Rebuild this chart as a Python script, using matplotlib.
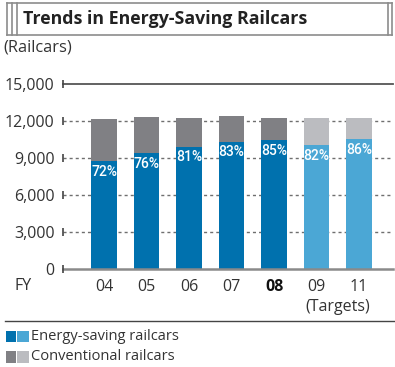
import matplotlib
matplotlib.use('Agg')
import matplotlib.pyplot as plt
import numpy as np
from matplotlib.lines import Line2D
from matplotlib.patches import Rectangle

plt.rcParams['font.family'] = ['Open Sans', 'DejaVu Sans']

# Railcar counts by fiscal year
years = ['04', '05', '06', '07', '08', '09', '11']
totals = [12150, 12330, 12250, 12430, 12270, 12250, 12250]
saving_pct = [72, 76, 81, 83, 85, 82, 86]
is_target = [False, False, False, False, False, True, True]
y_ticks = [0, 3000, 6000, 9000, 12000, 15000]
y_tick_labels = ['0', '3,000', '6,000', '9,000', '12,000', '15,000']

saving = np.array(totals) * np.array(saving_pct) / 100.0
conventional = np.array(totals) - saving

dark_blue = '#0071AE'
light_blue = '#4BA7D5'
dark_gray = '#808084'
light_gray = '#BBBCC0'
text_color = '#333333'

W, H = 395, 367
fig = plt.figure(figsize=(W / 100, H / 100), dpi=100)

# overlay in pixel coordinates for the frame, rules and free text
over = fig.add_axes([0, 0, 1, 1])
over.set_xlim(0, W)
over.set_ylim(H, 0)
over.axis('off')

ax = fig.add_axes([63 / W, 1 - 269 / H, 330 / W, 185 / H])
ax.set_zorder(2)
ax.patch.set_alpha(0)

x = np.arange(len(years))
blue_cols = [light_blue if t else dark_blue for t in is_target]
gray_cols = [light_gray if t else dark_gray for t in is_target]
ax.bar(x, saving, width=0.61, color=blue_cols, zorder=3)
ax.bar(x, conventional, bottom=saving, width=0.61, color=gray_cols, zorder=3)

for xi, s, p in zip(x, saving, saving_pct):
    ax.annotate(f'{p}%', (xi, s), xytext=(0, -2.5), textcoords='offset points',
                ha='center', va='top', color='white', fontsize=10,
                fontweight='medium', family='Roboto', zorder=4)

ax.set_xlim(-0.965, 6.8)
ax.set_ylim(0, 15000)

# dashed grid with small tick bars at the left end
for v in y_ticks[1:-1]:
    ax.axhline(v, color='#6f6f6f', lw=1, ls=(0, (2.2, 2.2)), zorder=1)
ax.axhline(15000, color='#555555', lw=1.3, zorder=1, clip_on=False)
ax.axhline(0, color='#8a8a8a', lw=1.8, zorder=4, clip_on=False)
ax.plot([-0.965] * len(y_ticks), y_ticks, ls='none', marker='|', ms=6,
        mew=1.2, color='#444444', clip_on=False, zorder=5)

ax.set_yticks(y_ticks)
ax.set_yticklabels(y_tick_labels)
ax.tick_params(axis='y', length=0, pad=6, labelsize=11.5, labelcolor=text_color)
ax.set_xticks(x)
ax.set_xticklabels(years)
ax.tick_params(axis='x', length=0, pad=7, labelsize=11.5, labelcolor=text_color)
for lab, yr in zip(ax.get_xticklabels(), years):
    if yr == '08':
        lab.set_fontweight('bold')
        lab.set_color('#111111')
for s in ax.spines.values():
    s.set_visible(False)

over.text(338, 307, '(Targets)', ha='center', va='center', fontsize=11.5, color=text_color)
over.text(14, 286, 'FY', ha='left', va='center', fontsize=11.5, color=text_color)
over.text(3, 47, '(Railcars)', ha='left', va='center', fontsize=11.8, color=text_color)

# title frame with double rules at each side
frame_c = '#8c8c8c'
over.add_line(Line2D([7, 392], [3, 3], color=frame_c, lw=1.2))
over.add_line(Line2D([7, 392], [35, 35], color=frame_c, lw=1.2))
for xv in [7, 12, 17, 388, 392]:
    over.add_line(Line2D([xv, xv], [3, 35], color=frame_c, lw=1.2))
over.text(23, 19.5, 'Trends in Energy-Saving Railcars', ha='left', va='center',
          fontsize=12.8, fontweight='bold', color='#222222')

# legend below a rule
over.add_line(Line2D([5, 395], [321, 321], color='#444444', lw=1))
over.add_patch(Rectangle((6, 331), 10, 11, color=dark_blue, lw=0))
over.add_patch(Rectangle((17, 331), 12, 11, color=light_blue, lw=0))
over.add_patch(Rectangle((6, 351), 10, 12, color=dark_gray, lw=0))
over.add_patch(Rectangle((17, 351), 12, 12, color=light_gray, lw=0))
over.text(31, 336.5, 'Energy-saving railcars', ha='left', va='center', fontsize=10.5, color=text_color)
over.text(31, 357, 'Conventional railcars', ha='left', va='center', fontsize=10.5, color=text_color)

fig.savefig('out.png', dpi=100)
